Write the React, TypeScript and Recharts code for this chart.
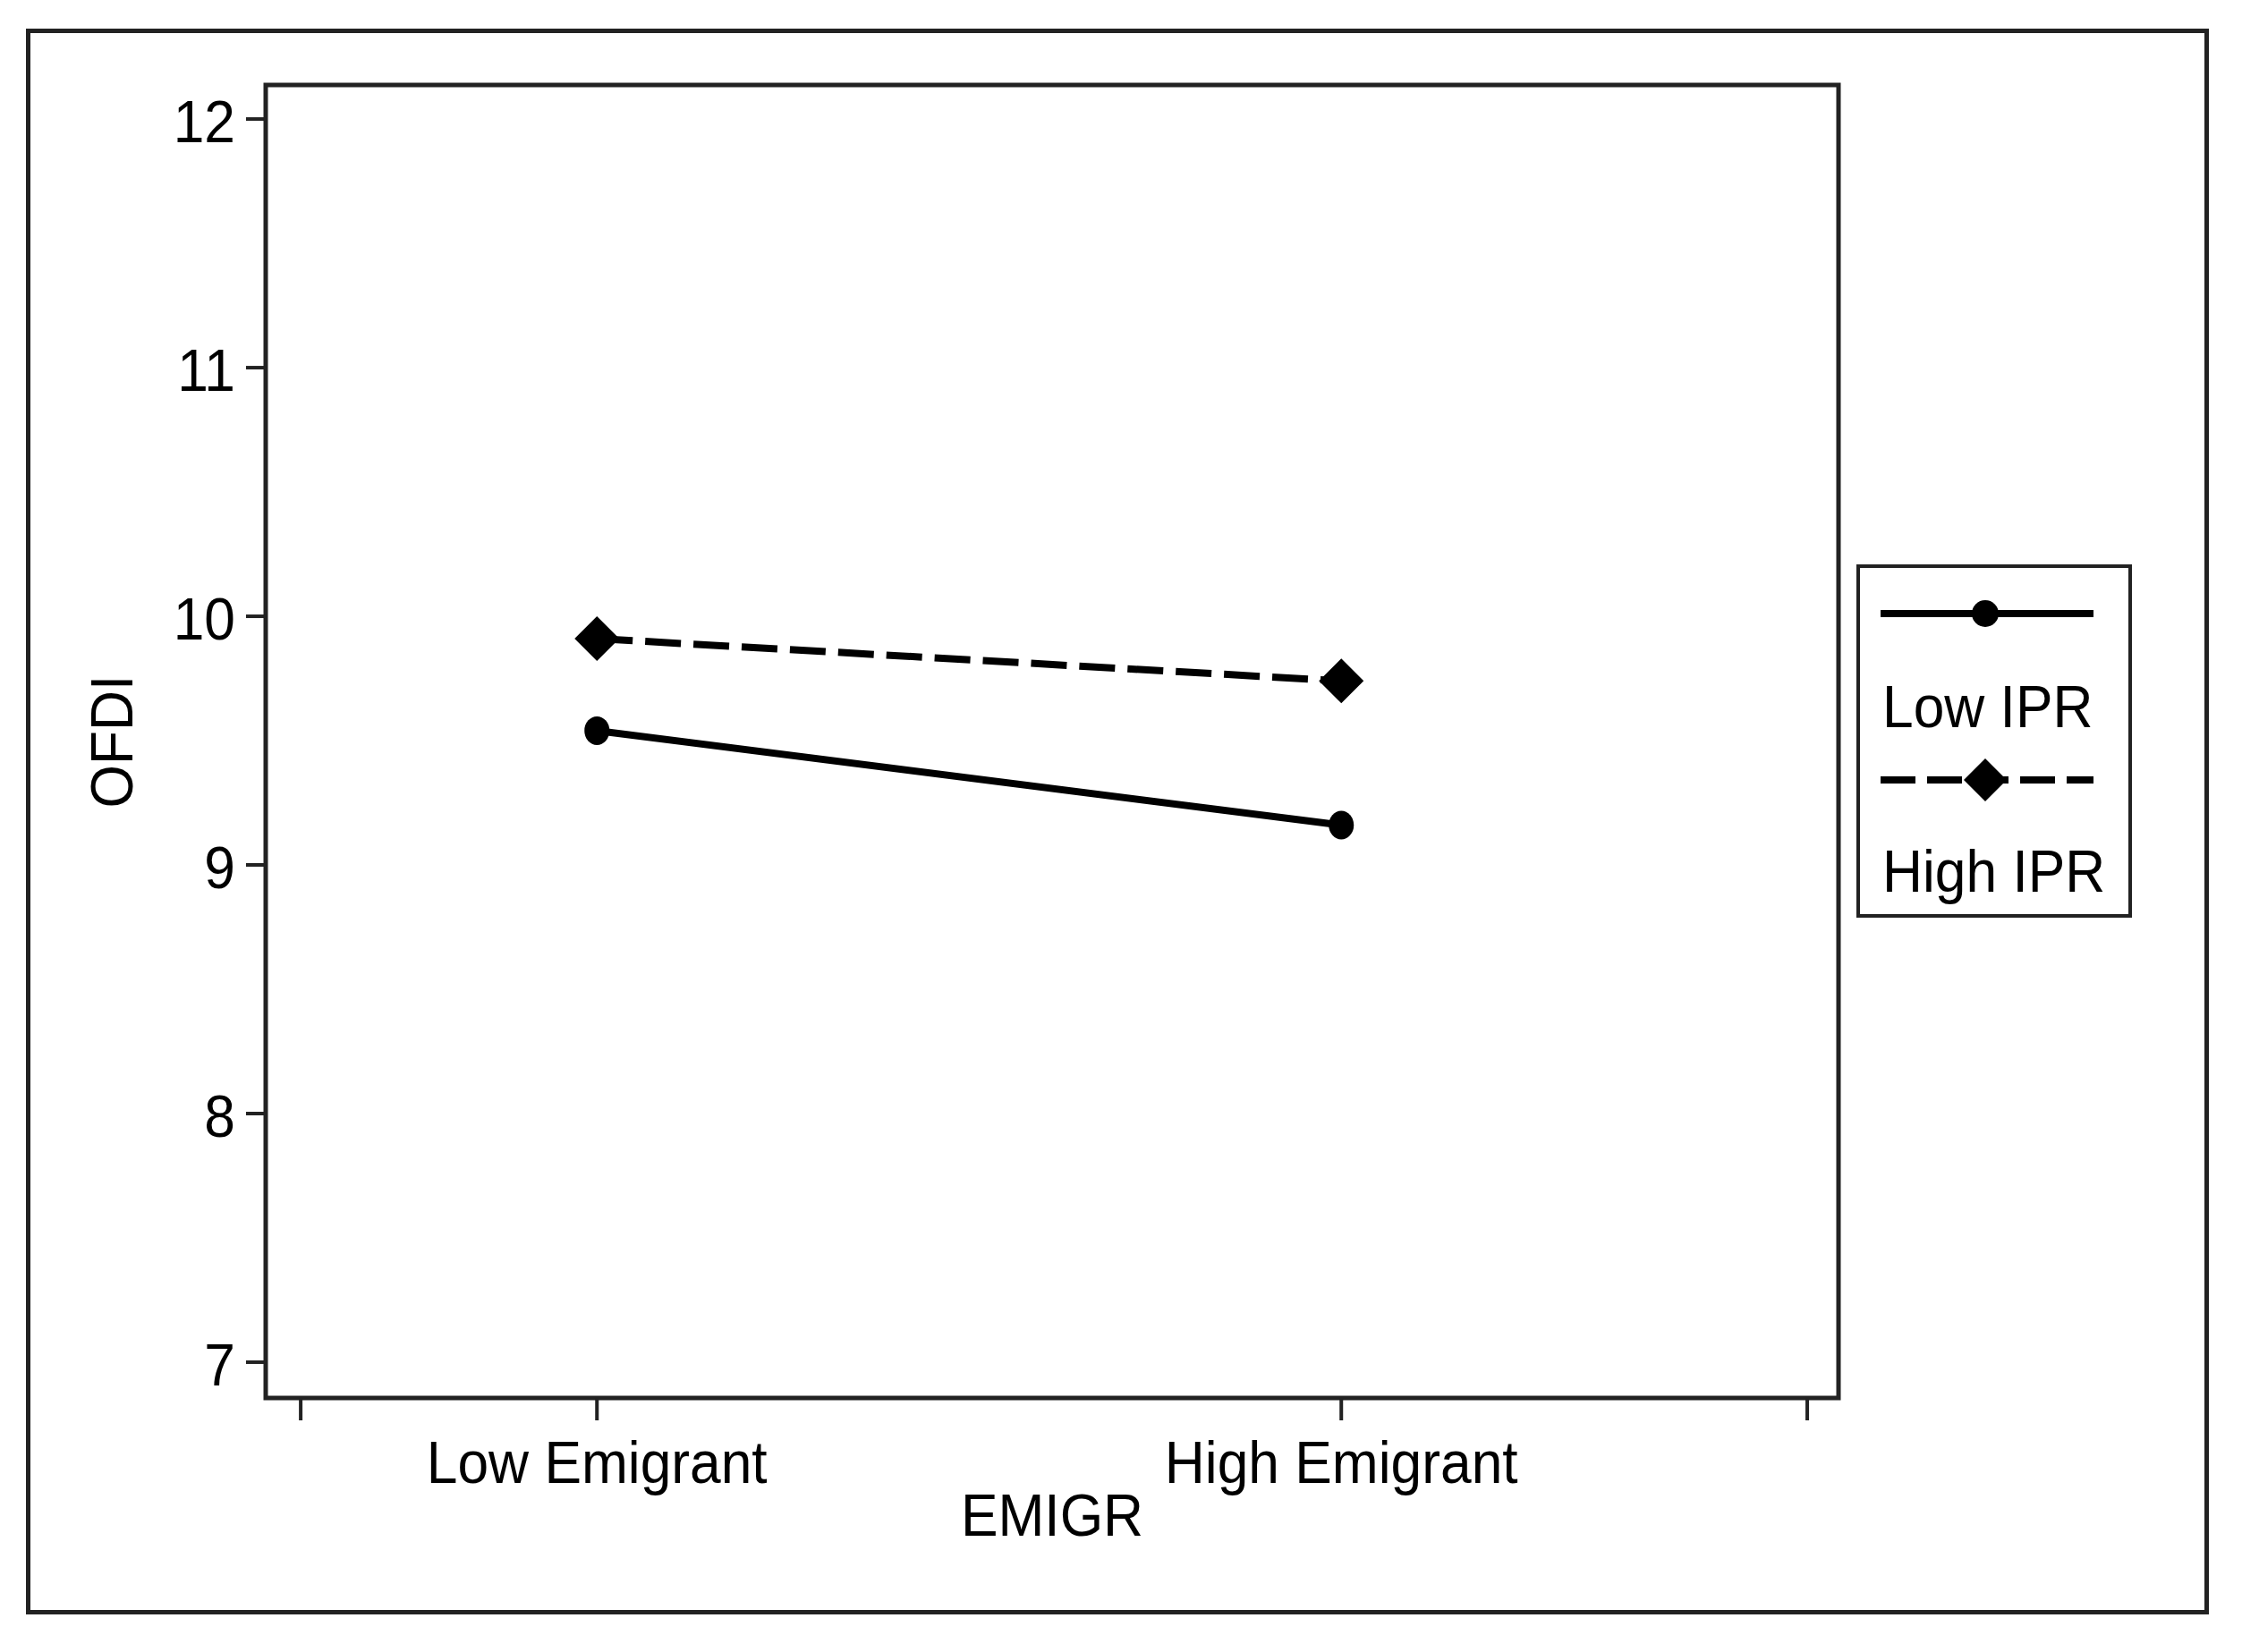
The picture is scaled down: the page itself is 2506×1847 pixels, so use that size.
import React from 'react';
import { LineChart, Line, XAxis, YAxis, Legend, ReferenceArea, Label } from 'recharts';

// EMIGR groups placed on a numeric axis so the end ticks can sit outside them
const categories = ['Low Emigrant', 'High Emigrant'];
const xPositions = [1, 2];
const xTicks = [0.602, 1, 2, 2.626];
const yTicks = [7, 8, 9, 10, 11, 12];

const lowIPR = [9.54, 9.16];
const highIPR = [9.91, 9.74];

const seriesNames = ['Low IPR', 'High IPR'];

const data = xPositions.map((x, i) => ({
  x,
  name: categories[i],
  low: lowIPR[i],
  high: highIPR[i],
}));

const FONT = 'Arial, "Liberation Sans", sans-serif';
const FS = 67;
const SQUEEZE = 0.93;
const INK = '#222';

const XTick = ({ x, y, payload }: any) => {
  const idx = xPositions.indexOf(payload.value);
  if (idx < 0) return null;
  return (
    <g transform={`translate(${x},${y + 70}) scale(${SQUEEZE},1)`}>
      <text x={0} y={0} textAnchor="middle" fontFamily={FONT} fontSize={FS} fill="#000">
        {categories[idx]}
      </text>
    </g>
  );
};

const YTick = ({ x, y, payload }: any) => (
  <g transform={`translate(${x - 12},${y + 26}) scale(${SQUEEZE},1)`}>
    <text x={0} y={0} textAnchor="end" fontFamily={FONT} fontSize={FS} fill="#000">
      {payload.value}
    </text>
  </g>
);

const Diamond = ({ cx, cy, size = 25 }: any) => {
  if (cx == null || cy == null) return null;
  return (
    <polygon
      points={`${cx},${cy - size} ${cx + size},${cy} ${cx},${cy + size} ${cx - size},${cy}`}
      fill="#000"
    />
  );
};

const Dot = ({ cx, cy }: any) => {
  if (cx == null || cy == null) return null;
  return <ellipse cx={cx} cy={cy} rx={14} ry={16} fill="#000" />;
};

const LegendBox = () => (
  <div
    style={{
      width: 308,
      height: 395,
      border: `4px solid ${INK}`,
      boxSizing: 'border-box',
      background: '#fff',
    }}
  >
    <svg width={300} height={387} style={{ display: 'block' }}>
      <line x1={23} x2={261} y1={51} y2={51} stroke="#000" strokeWidth={8} />
      <circle cx={140} cy={51} r={15} fill="#000" />
      <g transform={`translate(25,178) scale(${SQUEEZE},1)`}>
        <text fontFamily={FONT} fontSize={FS} fill="#000">{seriesNames[0]}</text>
      </g>
      <line x1={23} x2={261} y1={237} y2={237} stroke="#000" strokeWidth={8} strokeDasharray="39 13" />
      <Diamond cx={140} cy={237} size={24} />
      <g transform={`translate(25,362) scale(${SQUEEZE},1)`}>
        <text fontFamily={FONT} fontSize={FS} fill="#000">{seriesNames[1]}</text>
      </g>
    </svg>
  </div>
);

export default function App() {
  return (
    <div style={{ position: 'absolute', left: 0, top: 0, width: 2506, height: 1847, background: '#fff' }}>
      <div
        style={{
          position: 'absolute',
          left: 29,
          top: 32,
          width: 2440,
          height: 1773,
          border: `5px solid ${INK}`,
          boxSizing: 'border-box',
        }}
      />
      <div style={{ position: 'absolute', left: 0, top: 0 }}>
        <LineChart
          width={2506}
          height={1847}
          data={data}
          margin={{ top: 95, right: 451, bottom: 134, left: 97 }}
        >
          <ReferenceArea
            x1={0.555}
            x2={2.668}
            y1={6.856}
            y2={12.137}
            fill="none"
            fillOpacity={0}
            stroke={INK}
            strokeWidth={5}
            ifOverflow="extendDomain"
          />
          <XAxis
            dataKey="x"
            type="number"
            domain={[0.555, 2.668]}
            ticks={xTicks}
            allowDataOverflow
            axisLine={false}
            tickLine={{ stroke: INK, strokeWidth: 4 }}
            tickSize={25}
            tickMargin={0}
            height={150}
            tick={<XTick />}
            interval={0}
          >
            <Label
              content={({ viewBox }: any) => (
                <g transform={`translate(${viewBox.x + viewBox.width / 2},${viewBox.y + 154}) scale(${SQUEEZE},1)`}>
                  <text textAnchor="middle" fontFamily={FONT} fontSize={FS} fill="#000">EMIGR</text>
                </g>
              )}
            />
          </XAxis>
          <YAxis
            type="number"
            domain={[6.856, 12.137]}
            ticks={yTicks}
            allowDataOverflow
            axisLine={false}
            tickLine={{ stroke: INK, strokeWidth: 4 }}
            tickSize={22}
            tickMargin={0}
            width={200}
            tick={<YTick />}
            interval={0}
          >
            <Label
              content={({ viewBox }: any) => {
                const cx = 148;
                const cy = viewBox.y + viewBox.height / 2;
                return (
                  <g transform={`translate(${cx},${cy}) rotate(-90) scale(${SQUEEZE},1)`}>
                    <text textAnchor="middle" fontFamily={FONT} fontSize={FS} fill="#000">OFDI</text>
                  </g>
                );
              }}
            />
          </YAxis>
          <Legend
            layout="vertical"
            align="center"
            verticalAlign="middle"
            wrapperStyle={{ left: 2075, top: 631, width: 308, height: 395 }}
            content={<LegendBox />}
          />
          <Line
            dataKey="high"
            name={seriesNames[1]}
            stroke="#000"
            strokeWidth={8}
            strokeDasharray="40 14"
            dot={<Diamond />}
            activeDot={false}
            isAnimationActive={false}
          />
          <Line
            dataKey="low"
            name={seriesNames[0]}
            stroke="#000"
            strokeWidth={8}
            dot={<Dot />}
            activeDot={false}
            isAnimationActive={false}
          />
        </LineChart>
      </div>
    </div>
  );
}
